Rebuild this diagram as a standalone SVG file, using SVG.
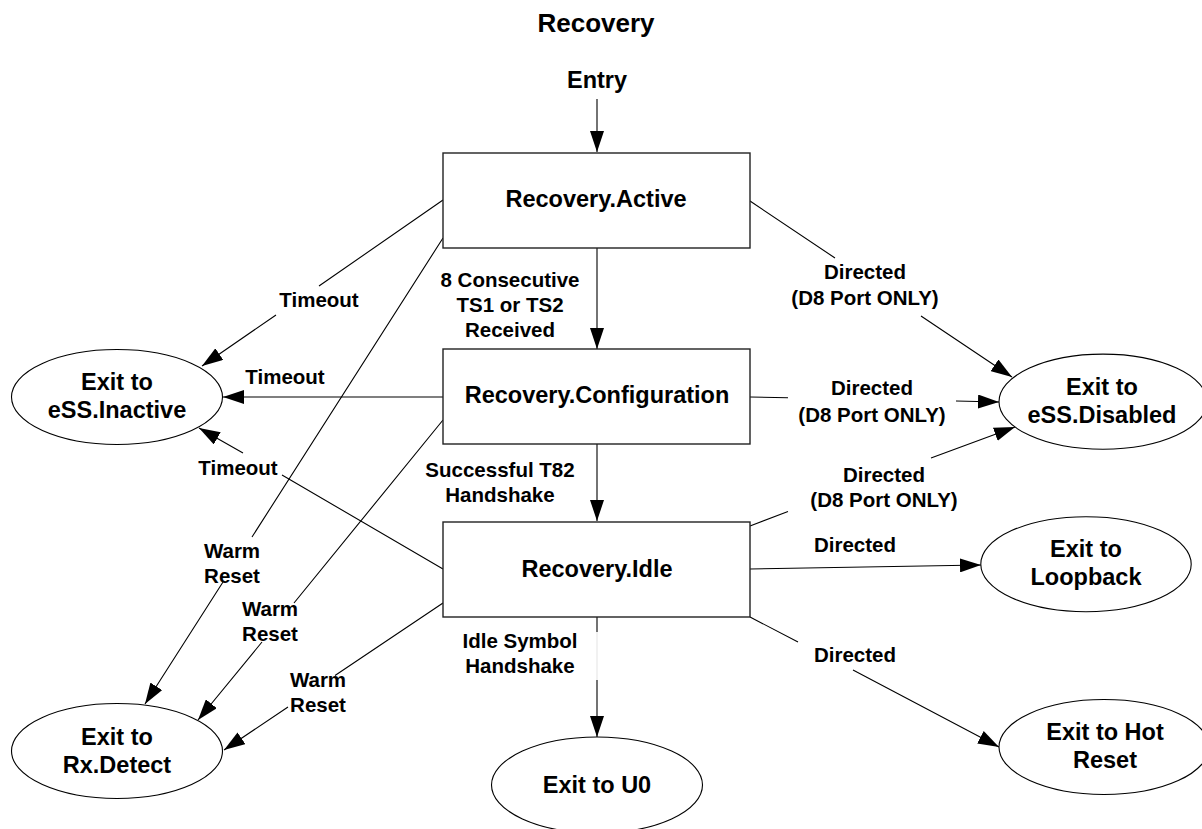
<svg xmlns="http://www.w3.org/2000/svg" width="1202" height="829" viewBox="0 0 1202 829">
<style>
text{font-family:"Liberation Sans",Arial,sans-serif;font-weight:bold;fill:#000;text-anchor:middle}
.t{font-size:26px}
.n{font-size:23.5px}
.l{font-size:20.5px}
.box{fill:#fff;stroke:#222;stroke-width:1.4}
.ell{fill:#fff;stroke:#000;stroke-width:1.1}
.c{fill:none;stroke:#000;stroke-width:1.1;marker-end:url(#ah)}
</style>
<defs>
<marker id="ah" viewBox="0 0 21 14" refX="21" refY="7" markerWidth="21" markerHeight="14" markerUnits="userSpaceOnUse" orient="auto">
<path d="M0,0 L21,7 L0,14 z" fill="#000"/>
</marker>
</defs>
<rect width="1202" height="829" fill="#fff"/>
<text class="t" x="596" y="32">Recovery</text>
<text class="n" x="597" y="88">Entry</text>
<g id="connectors">
<path class="c" d="M597,99 L597,152"/>
<path class="c" d="M597,248 L597,349"/>
<path class="c" d="M597,444 L597,521"/>
<line x1="597" y1="632" x2="597" y2="680" stroke="#e6e6e6" stroke-width="1.1"/>
<path class="c" d="M597,617 L597,632 M597,680 L597,737"/>
<path class="c" d="M443,200 L319,286 M276,315 L202,366"/>
<path class="c" d="M443,397 L223,397"/>
<path class="c" d="M443,569 L282,475 M243,453 L199,428"/>
<path class="c" d="M443,238 L252,537 M223,582 L145,704"/>
<path class="c" d="M443,420 L294,603 M262,642 L198,720"/>
<path class="c" d="M443,603 L335,675.5 M288,707 L224,750"/>
<path class="c" d="M750,201 L835,258 M921,316 L1012,377"/>
<path class="c" d="M750,397 L788,397.8 M956,401 L999,402"/>
<path class="c" d="M750,526 L788,511.6 M931,458 L1015,427"/>
<path class="c" d="M750,569 L981,565"/>
<path class="c" d="M750,617 L798,642 M853,670 L999,747"/>
</g>
<g id="labels">
<text class="l" x="510" y="287">8 Consecutive</text>
<text class="l" x="510" y="312">TS1 or TS2</text>
<text class="l" x="510" y="337">Received</text>
<text class="l" x="500" y="477">Successful T82</text>
<text class="l" x="500" y="502">Handshake</text>
<text class="l" x="520" y="648">Idle Symbol</text>
<text class="l" x="520" y="673">Handshake</text>
<text class="l" x="319" y="307">Timeout</text>
<text class="l" x="285" y="384">Timeout</text>
<text class="l" x="238" y="475">Timeout</text>
<text class="l" x="232" y="558">Warm</text>
<text class="l" x="232" y="583">Reset</text>
<text class="l" x="270" y="616">Warm</text>
<text class="l" x="270" y="641">Reset</text>
<text class="l" x="318" y="687">Warm</text>
<text class="l" x="318" y="712">Reset</text>
<text class="l" x="865" y="279">Directed</text>
<text class="l" x="865" y="305">(D8 Port ONLY)</text>
<text class="l" x="872" y="395">Directed</text>
<text class="l" x="872" y="422">(D8 Port ONLY)</text>
<text class="l" x="884" y="482">Directed</text>
<text class="l" x="884" y="507">(D8 Port ONLY)</text>
<text class="l" x="855" y="552">Directed</text>
<text class="l" x="855" y="662">Directed</text>
</g>
<g id="active"><rect class="box" x="443" y="153" width="307" height="95"/><text class="n" x="596" y="207">Recovery.Active</text></g>
<g id="configuration"><rect class="box" x="443" y="349" width="307" height="95"/><text class="n" x="597" y="403">Recovery.Configuration</text></g>
<g id="idle"><rect class="box" x="443" y="522" width="307" height="95"/><text class="n" x="597" y="577">Recovery.Idle</text></g>
<g id="inactive"><ellipse class="ell" cx="117" cy="397" rx="105.5" ry="47.5"/><text class="n" x="117" y="390">Exit to</text><text class="n" x="117" y="418">eSS.Inactive</text></g>
<g id="rxdetect"><ellipse class="ell" cx="117" cy="751" rx="105.5" ry="47.5"/><text class="n" x="117" y="745">Exit to</text><text class="n" x="117" y="773">Rx.Detect</text></g>
<g id="u0"><ellipse class="ell" cx="597" cy="785" rx="105.5" ry="48"/><text class="n" x="597" y="793">Exit to U0</text></g>
<g id="disabled"><ellipse class="ell" cx="1103" cy="401.7" rx="104" ry="47.6"/><text class="n" x="1102" y="395">Exit to</text><text class="n" x="1102" y="423">eSS.Disabled</text></g>
<g id="loopback"><ellipse class="ell" cx="1086" cy="564.2" rx="105.2" ry="47.5"/><text class="n" x="1086" y="557">Exit to</text><text class="n" x="1086" y="585">Loopback</text></g>
<g id="hotreset"><ellipse class="ell" cx="1104" cy="747" rx="105" ry="47.5"/><text class="n" x="1105" y="740">Exit to Hot</text><text class="n" x="1105" y="768">Reset</text></g>
</svg>
